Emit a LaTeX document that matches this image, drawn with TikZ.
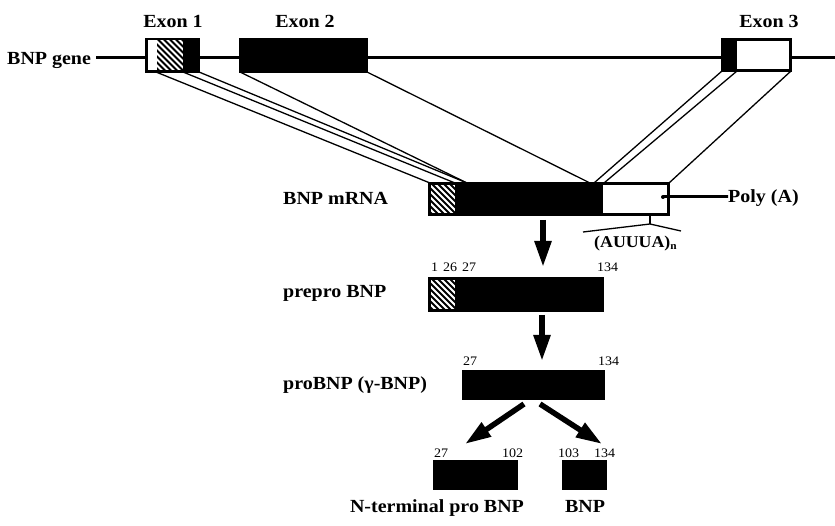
\documentclass[tikz,border=0pt]{standalone}
\usepackage{fontspec}
\setmainfont[FakeStretch=1.08]{Liberation Serif}
\usetikzlibrary{arrows.meta}
\newcommand\hatchrect[4]{%
  \begin{scope}
    \clip (#1,#2) rectangle (#3,#4);
    \fill[white] (#1,#2) rectangle (#3,#4);
    \foreach \k in {-48,-42,...,36} \draw[line width=2.1pt] (#1+\k,#2-2) -- ++(44,44);
  \end{scope}}
\begin{document}
\begin{tikzpicture}[x=1pt,y=-1pt,
  blk/.style={draw=black,fill=black,line width=1.6pt,inner sep=0,outer sep=0,anchor=north west},
  lbl/.style={font=\bfseries\fontsize{18.5}{22}\selectfont,inner sep=0},
  num/.style={font=\fontsize{13}{15}\selectfont,inner sep=0,anchor=base west},
  conn/.style={line width=1.3pt},
  bigarrow/.style={line width=5.5pt,-{Triangle[width=16pt,length=26pt]}}]
\useasboundingbox[fill=white] (0,0) rectangle (835,526);

% ---------- gene ----------
\node[lbl,anchor=base west] (genelbl) at (7,65) {BNP gene};
\coordinate (geneend) at (835,58);
\draw[line width=3pt] (genelbl.east |- geneend) ++(5,0) -- (geneend);

\node[blk,minimum width=53,minimum height=33] (ex1) at (146,39) {};
\fill[white] (147.5,40.5) rectangle (157,70.5);
\hatchrect{157}{40.5}{183}{70.5}
\node[blk,minimum width=127,minimum height=33] (ex2) at (240,39) {};
\node[blk,minimum width=69,minimum height=32] (ex3) at (722,39) {};
\fill[white] (737,41) rectangle (789,69);

\node[lbl,anchor=base] (ex1lbl) at (173,28) {Exon 1};
\node[lbl,anchor=base] (ex2lbl) at (305,28) {Exon 2};
\node[lbl,anchor=base] (ex3lbl) at (769,28) {Exon 3};

% ---------- mRNA ----------
\node[blk,minimum width=240,minimum height=32] (mrna) at (429,183) {};
\hatchrect{431}{185}{455}{213}
\fill[white] (603,185) rectangle (667,213);
\node[lbl,anchor=base west] (mrnalbl) at (283,205) {BNP mRNA};

% splice lines
\coordinate (g1) at (156,72);   \coordinate (m1) at (430,183);
\coordinate (g2) at (183,72);   \coordinate (m2) at (455,183);
\coordinate (g3) at (199,72);   \coordinate (m3) at (467,183);
\coordinate (g5) at (367,72);   \coordinate (m5) at (590,183);
\coordinate (g6) at (722,71);   \coordinate (m6) at (594,183);
\coordinate (g7) at (737,71);   \coordinate (m7) at (604,183);
\coordinate (g8) at (791,71);   \coordinate (m8) at (669,183);
\draw[conn] (g1) -- (m1);
\draw[conn] (g2) -- (m2);
\draw[conn] (g3) -- (m3);
\draw[conn] (ex2.south west) -- (m3);
\draw[conn] (g5) -- (m5);
\draw[conn] (g6) -- (m6);
\draw[conn] (g7) -- (m7);
\draw[conn] (g8) -- (m8);

% Poly(A)
\coordinate (pa) at (663,197);
\node[lbl,anchor=base west] (polya) at (728,203) {Poly (A)};
\draw[line width=3pt] (pa) -- (polya.west |- pa) -- ++(-11,0);
\fill (pa) circle (2pt);

% AUUUA bracket
\coordinate (brt) at (650,215);
\coordinate (brm) at (650,224);
\coordinate (brl) at (583,232);
\coordinate (brr) at (681,231);
\draw[conn] (brt) -- (brm);
\draw[conn] (brl) -- (brm) -- (brr);
\node[lbl,anchor=base west,font=\bfseries\fontsize{16.5}{19}\selectfont] (auuua) at (594,248) {(AUUUA)\raisebox{-2pt}{\fontsize{10.5}{11}\selectfont n}};

% ---------- prepro BNP ----------
\node[blk,minimum width=174,minimum height=33] (prepro) at (429,278) {};
\hatchrect{431}{280}{455}{309}
\node[lbl,anchor=base west] (preprolbl) at (283,298) {prepro BNP};
\node[num] (n1) at (431,272) {1};
\node[num] (n26) at (443,272) {26};
\node[num] (n27a) at (462,272) {27};
\node[num] (n134a) at (597,272) {134};

\coordinate (a1s) at (543,220); \coordinate (a1e) at (543,267);
\draw[bigarrow] (a1s) -- (a1e);

% ---------- proBNP ----------
\node[blk,minimum width=141,minimum height=28] (pro) at (463,371) {};
\node[lbl,anchor=base west] (prolbl) at (283,389) {proBNP (γ-BNP)};
\node[num] (n27b) at (463,366) {27};
\node[num] (n134b) at (598,366) {134};

\coordinate (a2s) at (542,315); \coordinate (a2e) at (542,361);
\draw[bigarrow] (a2s) -- (a2e);

% ---------- products ----------
\node[blk,minimum width=83,minimum height=28] (nt) at (434,461) {};
\node[blk,minimum width=43,minimum height=28] (bnp) at (563,461) {};
\node[num] (n27c) at (434,457) {27};
\node[num] (n102) at (502,457) {102};
\node[num] (n103) at (558,457) {103};
\node[num] (n134c) at (594,457) {134};
\node[lbl,anchor=base] (ntlbl) at (437,512) {N-terminal pro BNP};
\node[lbl,anchor=base] (bnplbl) at (585,512) {BNP};

\coordinate (a3s) at (524,404); \coordinate (a3e) at (465,444);
\coordinate (a4s) at (540,404); \coordinate (a4e) at (602,444);
\draw[bigarrow] (a3s) -- (a3e);
\draw[bigarrow] (a4s) -- (a4e);
\end{tikzpicture}
\end{document}
